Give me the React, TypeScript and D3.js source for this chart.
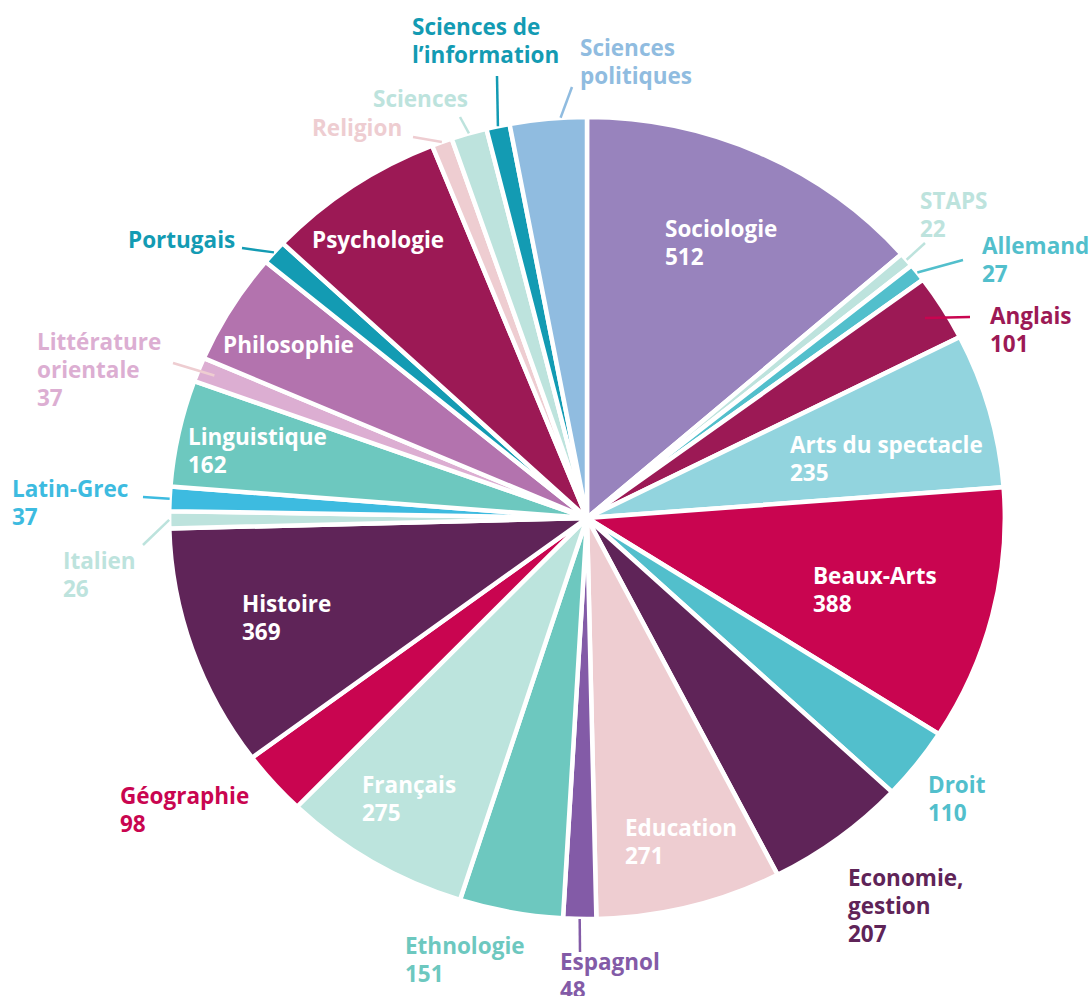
import React, { useEffect, useRef } from 'react';
import * as d3 from 'd3';

// disciplines, clockwise from 12 o'clock
const categories = [
  'Sociologie', 'STAPS', 'Allemand', 'Anglais', 'Arts du spectacle', 'Beaux-Arts', 'Droit',
  'Economie, gestion', 'Education', 'Espagnol', 'Ethnologie', 'Français', 'Géographie', 'Histoire',
  'Italien', 'Latin-Grec', 'Linguistique', 'Littérature orientale', 'Philosophie', 'Portugais',
  'Psychologie', 'Religion', 'Sciences', "Sciences de l'information", 'Sciences politiques',
];
const values = [
  512, 22, 27, 101, 235, 388, 110, 207, 271, 48, 151, 275, 98, 369, 26, 37, 162, 37, 170, 37, 262,
  30, 52, 34, 112,
];
// value printed next to the name?
const valueShown = [
  true, true, true, true, true, true, true, true, true, true, true, true, true, true, true, true,
  true, true, false, false, false, false, false, false, false,
];
const labelLines = [
  ['Sociologie'], ['STAPS'], ['Allemand'], ['Anglais'], ['Arts du spectacle'], ['Beaux-Arts'], ['Droit'],
  ['Economie,', 'gestion'], ['Education'], ['Espagnol'], ['Ethnologie'], ['Français'], ['Géographie'],
  ['Histoire'], ['Italien'], ['Latin-Grec'], ['Linguistique'], ['Littérature', 'orientale'], ['Philosophie'],
  ['Portugais'], ['Psychologie'], ['Religion'], ['Sciences'], ['Sciences de', 'l’information'],
  ['Sciences', 'politiques'],
];

const colors = [
  '#9883bd', '#bde3dd', '#52bfcc', '#9c1955', '#92d4de', '#c90550', '#52bfcc', '#5f2458', '#eecdd1',
  '#835ba7', '#6dc8bf', '#bce4dd', '#c90550', '#5f2458', '#bde3dd', '#3dbbe0', '#6dc8bf', '#dcaed2',
  '#b373ae', '#139bb3', '#9c1955', '#eecdd1', '#bde3dd', '#139bb3', '#90bce0',
];

// label layout: [x, first baseline, inside slice?]
const labelLayout: [number, number, boolean][] = [
  [665, 237, true], [920, 209, false], [982, 254, false], [990, 324, false], [790, 453, true],
  [813, 584, true], [928, 793, false], [848, 886, false], [625, 836, true], [560, 970, false],
  [405, 954, false], [362, 793, true], [120, 804, false], [242, 612, true], [63, 569, false],
  [12, 497, false], [188, 445, true], [37, 350, false], [223, 353, true], [128, 248, false],
  [312, 248, true], [312, 136, false], [373, 107, false], [412, 35, false], [580, 56, false],
];

// leader lines: slice index, radius factor at slice, end point
const leaders: { i: number; r: number; end: [number, number]; stroke?: string; da?: number }[] = [
  { i: 1, r: 1, end: [925, 243] },
  { i: 2, r: 1, end: [963, 260] },
  { i: 3, r: 0.95, end: [970, 317], stroke: '#c90550' },
  { i: 9, r: 1, end: [580, 952] },
  { i: 14, r: 1, end: [143, 545] },
  { i: 15, r: 1, end: [143, 497] },
  { i: 17, r: 0.96, end: [173, 363], stroke: '#eecdd1' },
  { i: 19, r: 1, end: [242, 248] },
  { i: 21, r: 1, end: [413, 137] },
  { i: 22, r: 1, end: [460, 117] },
  { i: 23, r: 1, end: [497, 76] },
  { i: 24, r: 1, end: [572, 87], da: 0.03 },
];

const width = 1092;
const height = 996;
const cx = 587;
const cy = 518;
const radius = 401;
const stretch = 1.042;

const App = () => {
  const svgRef = useRef<SVGSVGElement>(null);

  useEffect(() => {
    const svg = d3.select(svgRef.current);
    svg.selectAll('*').remove();

    const data = categories.map((c, i) => ({ name: c, value: values[i], i }));
    const pie = d3
      .pie<any>()
      .sort(null)
      .value((d) => d.value);
    const arcs = pie(data);

    const arc = d3.arc<any>().innerRadius(0).outerRadius(radius);

    const g = svg.append('g').attr('transform', `translate(${cx},${cy}) scale(${stretch},1)`);
    g.selectAll('path')
      .data(arcs)
      .enter()
      .append('path')
      .attr('d', arc)
      .attr('fill', (d) => colors[d.data.i])
      .attr('stroke', 'white')
      .attr('stroke-width', 4.5)
      .attr('vector-effect', 'non-scaling-stroke')
      .attr('stroke-linejoin', 'miter');

    // point on a slice, in page coords
    const polar = (a: number, r: number): [number, number] => [
      cx + stretch * r * Math.sin(a),
      cy - r * Math.cos(a),
    ];

    leaders.forEach((l) => {
      const s = arcs[l.i];
      const mid = (s.startAngle + s.endAngle) / 2 + (l.da || 0);
      const p = polar(mid, radius * l.r);
      svg
        .append('line')
        .attr('x1', p[0])
        .attr('y1', p[1])
        .attr('x2', l.end[0])
        .attr('y2', l.end[1])
        .attr('stroke', l.stroke || colors[l.i])
        .attr('stroke-width', 2.5);
    });

    // labels
    labelLayout.forEach(([x, y, inside], i) => {
      const lines = valueShown[i] ? [...labelLines[i], String(values[i])] : labelLines[i];
      const t = svg
        .append('text')
        .attr('x', x)
        .attr('y', y)
        .attr('fill', inside ? '#ffffff' : colors[i])
        .attr('font-family', '"Open Sans", Lato, sans-serif')
        .attr('font-weight', 700)
        .attr('font-size', 22.5);
      lines.forEach((ln, k) => {
        t.append('tspan').attr('x', x).attr('dy', k === 0 ? 0 : 28).text(ln);
      });
    });
  }, []);

  return (
    <svg
      ref={svgRef}
      width={width}
      height={height}
      style={{ position: 'absolute', left: 0, top: 0, background: '#fff' }}
    />
  );
};

export default App;
